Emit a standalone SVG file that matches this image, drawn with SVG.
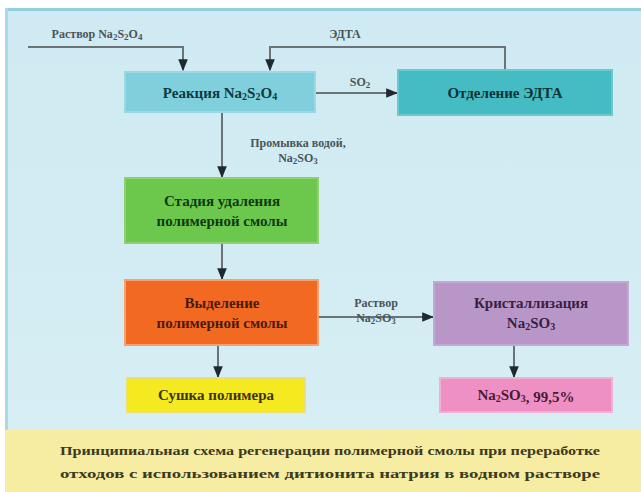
<svg xmlns="http://www.w3.org/2000/svg" width="641" height="492" viewBox="0 0 641 492">
<defs>
<linearGradient id="bg" x1="0" y1="0" x2="0" y2="1">
<stop offset="0" stop-color="#cfeaf2"/>
<stop offset="1" stop-color="#d6eef4"/>
</linearGradient>
<marker id="ah" viewBox="0 0 10 10" refX="9" refY="5" markerWidth="6" markerHeight="6" orient="auto">
<path d="M0,1 L10,5 L0,9 z" fill="#1e2a2e"/>
</marker>
</defs>
<style>
.t{font-family:"Liberation Serif","Times New Roman",serif;font-weight:bold;font-size:15px;text-anchor:middle}
.lbl{font-family:"Liberation Serif","Times New Roman",serif;font-weight:bold;font-size:12px;fill:#4a5558;text-anchor:middle}
.cap{font-family:"Liberation Serif","Times New Roman",serif;font-weight:bold;font-size:13px;fill:#3c3a20;text-anchor:middle}
.c{fill:none;stroke:#6a7478;stroke-width:2}
</style>
<rect x="0" y="0" width="641" height="492" fill="#ffffff"/>
<rect x="5" y="8" width="636" height="424" fill="url(#bg)"/>
<rect x="5" y="8" width="636" height="3" fill="#8fd0dc"/>
<rect x="5" y="8" width="3" height="424" fill="#a8dbe5"/>
<rect x="5" y="430" width="636" height="62" fill="#f6eca2"/>

<g id="connectors">
<polyline class="c" points="28,47 183,47 183,70" marker-end="url(#ah)"/>
<polyline class="c" points="505,70 505,47 270,47 270,70" marker-end="url(#ah)"/>
<line class="c" x1="315" y1="93" x2="397" y2="93" marker-end="url(#ah)"/>
<line class="c" x1="222" y1="112" x2="222" y2="177" marker-end="url(#ah)"/>
<line class="c" x1="222" y1="243" x2="222" y2="279" marker-end="url(#ah)"/>
<line class="c" x1="318" y1="317" x2="433" y2="317" marker-end="url(#ah)"/>
<line class="c" x1="218" y1="345" x2="218" y2="377" marker-end="url(#ah)"/>
<line class="c" x1="514" y1="345" x2="514" y2="377" marker-end="url(#ah)"/>
<text class="lbl" x="97" y="38">Раствор Na<tspan font-size="9" dy="2">2</tspan><tspan dy="-2">S</tspan><tspan font-size="9" dy="2">2</tspan><tspan dy="-2">O</tspan><tspan font-size="9" dy="2">4</tspan></text>
<text class="lbl" x="345" y="38">ЭДТА</text>
<text class="lbl" x="360" y="86">SO<tspan font-size="9" dy="2">2</tspan></text>
<text class="lbl" x="298" y="147">Промывка водой,</text>
<text class="lbl" x="298" y="162">Na<tspan font-size="9" dy="2">2</tspan><tspan dy="-2">SO</tspan><tspan font-size="9" dy="2">3</tspan></text>
<text class="lbl" x="376" y="307">Раствор</text>
<text class="lbl" x="376" y="322">Na<tspan font-size="9" dy="2">2</tspan><tspan dy="-2">SO</tspan><tspan font-size="9" dy="2">3</tspan></text>
</g>

<g id="n1">
<rect x="125" y="72" width="190" height="40" fill="#7fd0dc" stroke="#9ad8e2" stroke-width="2"/>
<text class="t" x="220" y="98" fill="#0e3a40">Реакция Na<tspan font-size="10" dy="2">2</tspan><tspan dy="-2">S</tspan><tspan font-size="10" dy="2">2</tspan><tspan dy="-2">O</tspan><tspan font-size="10" dy="2">4</tspan></text>
</g>
<g id="n2">
<rect x="398" y="70" width="214" height="45" fill="#45bcc4" stroke="#6cc8d0" stroke-width="2"/>
<text class="t" x="505" y="98" fill="#0c3438">Отделение ЭДТА</text>
</g>
<g id="n3">
<rect x="125" y="178" width="193" height="65" fill="#6cc84c" stroke="#8fd070" stroke-width="2"/>
<text class="t" x="222" y="206" fill="#0f3a12">Стадия удаления</text>
<text class="t" x="222" y="226" fill="#0f3a12">полимерной смолы</text>
</g>
<g id="n4">
<rect x="125" y="280" width="193" height="65" fill="#f26a22" stroke="#f6a070" stroke-width="2"/>
<text class="t" x="222" y="308" fill="#4a1a06">Выделение</text>
<text class="t" x="222" y="328" fill="#4a1a06">полимерной смолы</text>
</g>
<g id="n5">
<rect x="434" y="282" width="194" height="63" fill="#b896c8" stroke="#c4a8d4" stroke-width="2"/>
<text class="t" x="531" y="308" fill="#3a2040">Кристаллизация</text>
<text class="t" x="531" y="328" fill="#3a2040">Na<tspan font-size="10" dy="2">2</tspan><tspan dy="-2">SO</tspan><tspan font-size="10" dy="2">3</tspan></text>
</g>
<g id="n6">
<rect x="127" y="378" width="178" height="34" fill="#f5ea20" stroke="#eee070" stroke-width="2"/>
<text class="t" x="216" y="400" fill="#3a3408">Сушка полимера</text>
</g>
<g id="n7">
<rect x="440" y="378" width="172" height="34" fill="#ef90c4" stroke="#f0b0d4" stroke-width="2"/>
<text class="t" x="526" y="400" fill="#4a1a34">Na<tspan font-size="10" dy="2">2</tspan><tspan dy="-2">SO</tspan><tspan font-size="10" dy="2">3</tspan>, 99,5%</text>
</g>

<g id="caption">
<text class="cap" x="330" y="455" textLength="540" lengthAdjust="spacingAndGlyphs">Принципиальная схема регенерации полимерной смолы при переработке</text>
<text class="cap" x="330" y="478" textLength="540" lengthAdjust="spacingAndGlyphs">отходов с использованием дитионита натрия в водном растворе</text>
</g>
</svg>
